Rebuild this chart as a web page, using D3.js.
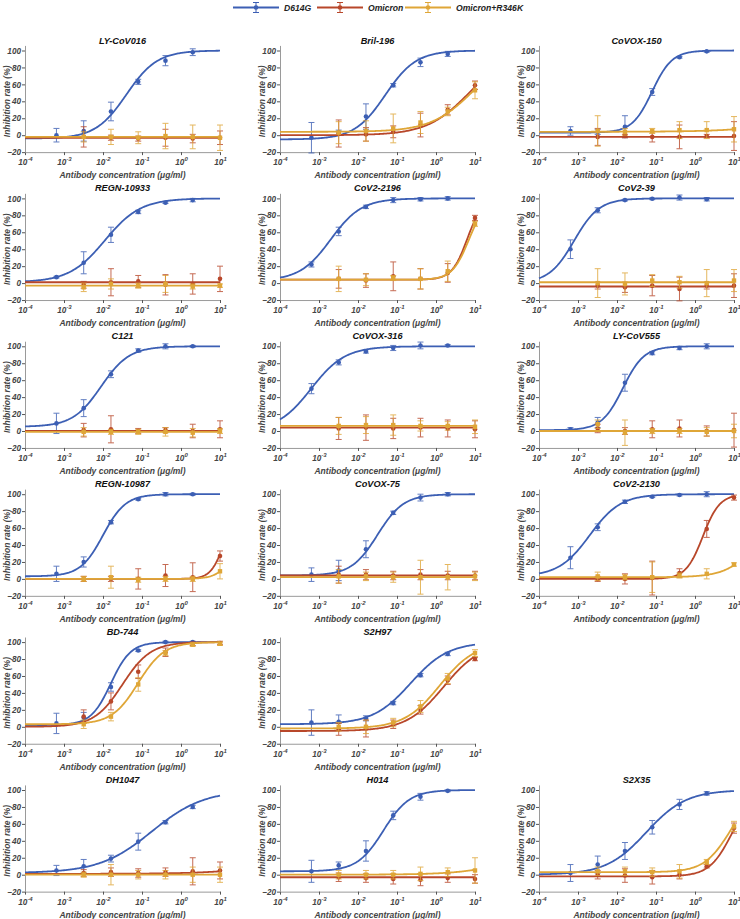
<!DOCTYPE html>
<html><head><meta charset="utf-8">
<script src="https://cdn.jsdelivr.net/npm/d3@7"></script>
<style>
body{margin:0;background:#fff;}
svg text{font-family:"Liberation Sans",Arial,sans-serif;}
</style></head>
<body>
<svg id="chart" width="740" height="919"></svg>
<script>
// ---------------- DATA ----------------
const antibodies = ["LY-CoV016","Bril-196","CoVOX-150","REGN-10933","CoV2-2196","CoV2-39","C121","CoVOX-316","LY-CoV555","REGN-10987","CoVOX-75","CoV2-2130","BD-744","S2H97","DH1047","H014","S2X35"];
const seriesNames = ["D614G","Omicron","Omicron+R346K"];
const concD614G = [0.00064, 0.0032, 0.016, 0.08, 0.4, 2];
const concOmicron = [0.0032, 0.016, 0.08, 0.4, 2, 10];
const xTickExponents = [-4,-3,-2,-1,0,1];
const yTicks = [-20,0,20,40,60,80,100];

const d614gMean = [
 [0,5,28,63,88,98],[-3,3,22,59,86,96],[5,4,10,51,92,99],
 [7,24,57,84,95,98],[22,61,90,98,99,100],[40,86,98,99.5,101,99],
 [9,27,67,95,100,100],[50,81,94,98,101,101],[2,10,57,92,98,100],
 [6,20,67,94,100,100],[5,10,35,78,96,100],[25,61,91,97,99,100],
 [4,11,47,90,100,100],[5,6,10,28,61,86],
 [5,10,19,39,62,80],[4,11,28,70,92,99],[2,12,28,56,83,96]];
const d614gErr = [
 [8,12,11,3,6,4],[18,3,15,2,5,3],[5,3,13,4,1,1],
 [1,13,9,2,1,2],[3,5,2,3,2,2],[11,3,1,1,3,2],
 [12,10,4,2,3,1],[6,3,2,3,4,1],[2,6,10,2,2,3],
 [9,6,2,1,2,1],[8,12,10,2,4,2],[13,4,2,1,1,3],
 [12,6,5,1,1,1],[15,8,3,2,2,2],
 [6,8,4,10,2,2],[13,4,12,5,4,1],[10,10,10,8,6,2]];
// fit parameters: [bottom, top, logIC50, hill]
const d614gFit = [
 [-4,100,-1.4,1.1],[-5,100,-1.3,1.1],[3,100,-1.1,1.7],
 [1,100,-1.95,0.95],[3,100,-2.7,1.1],[0,100,-3.1,1.35],
 [5,100,-2.05,1.2],[0,100,-3.2,1.0],[1,100,-1.85,1.6],
 [3,100,-2.0,1.5],[4,100,-1.5,1.3],[3,100,-2.7,1.1],
 [2,100,-1.8,1.7],[3,100,-0.65,0.9],
 [2,100,-0.75,0.65],[4,100,-1.35,1.3],[0,100,-1.25,0.85]];

const omicronMean = [
 [-2,-3,-4,-3,-4,-3],[2,1,4,12,30,59],[-2,-1,-2,-2,-1,-1],
 [-2,1,2,-2,-1,5],[5,3,8,5,12,77],[-3,-5,-3,-7,-3,-3],
 [1,2,0,1,0,2],[3,4,3,4,3,2],[3,0,2,3,0,1],
 [0,0,0,4,2,27],[5,5,4,5,4,4],[0,0,1,7,59,96],
 [12,30,65,88,98,99],[-3,-2,3,20,55,80],
 [2,3,2,3,4,5],[-3,-4,-5,-6,-4,-5],[0,-1,-3,0,10,55]];
const omicronErr = [
 [12,3,3,10,5,8],[16,8,7,14,6,5],[10,2,6,14,2,17],
 [4,16,7,12,12,15],[11,8,17,12,11,3],[4,6,12,14,4,14],
 [8,16,3,3,8,10],[13,15,12,11,10,10],[5,4,10,10,6,20],
 [3,3,12,13,17,6],[10,6,5,6,5,5],[3,6,20,5,10,3],
 [8,10,8,5,2,2],[7,10,5,5,5,2],
 [4,5,5,5,16,10],[5,5,6,7,5,5],[5,8,8,5,2,6]];
const omicronFit = [
 [-3,-3,0,1],[0,100,0.85,0.8],[-2,-2,0,1],
 [1,1,0,1],[4,100,0.8,2.2],[-4,-4,0,1],
 [0,0,0,1],[4,4,0,1],[0,0,0,1],
 [0,100,1.15,2.5],[4,4,0,1],[0,100,0.2,2.0],
 [0,100,-1.5,1.2],[-5,100,0.2,0.9],
 [1,100,4,0.5],[-3,-3,0,1],[-2,100,0.95,1.5]];

const r346kMean = [
 [-2,-2,-3,-1,-2,-3],[3,5,8,15,28,53],[5,4,5,6,6,7],
 [-5,-1,-3,-1,-4,-3],[5,4,6,5,14,70],[0,-1,3,1,0,3],
 [-1,-1,-1,-1,-2,0],[6,7,7,6,6,5],[8,-2,0,0,-1,0],
 [0,2,-1,0,0,9],[3,3,2,2,2,3],[3,2,2,4,6,17],
 [3,12,50,87,97,98],[0,0,5,24,57,87],
 [0,0,0,0,0,0],[0,0,0,1,3,5],[4,4,3,4,15,57]];
const r346kErr = [
 [6,9,7,15,14,15],[13,12,17,13,5,10],[18,4,3,10,10,15],
 [5,6,3,10,3,2],[15,7,3,12,12,3],[17,13,7,7,16,13],
 [5,3,3,5,5,3],[10,10,12,6,5,8],[5,15,3,3,5,8],
 [3,13,3,3,3,9],[8,5,6,20,15,5],[5,3,18,3,6,2],
 [5,5,8,3,2,2],[5,8,5,7,6,4],
 [3,12,5,5,9,9],[5,5,5,8,5,15],[5,5,5,8,3,6]];
const r346kFit = [
 [-2,-2,0,1],[4,100,0.95,0.8],[4,100,4,0.5],
 [-3,-3,0,1],[4,100,0.85,2.0],[1,1,0,1],
 [-1,-1,0,1],[6,6,0,1],[0,0,0,1],
 [0,100,1.5,2.0],[2,2,0,1],[2,100,1.7,1.1],
 [3,100,-1.1,1.3],[-2,100,0.1,0.95],
 [0,0,0,1],[0,100,3,0.6],[3,100,0.9,1.3]];

// ---------------- LAYOUT ----------------
const colors = ["#3c5fb4","#b8472a","#dfa637"];
const gridSlots = [0,1,2,3,4,5,6,7,8,9,10,11,12,13,15,16,17];
const colX = [25, 280, 539];
const plotW = 195;
const rowTop100 = 50.5, rowPitch = 147.9, pxPerUnit = 0.847;

const svg = d3.select("#chart");
const series = [
  {conc: concD614G, mean: d614gMean, err: d614gErr, fit: d614gFit, shape: "circle"},
  {conc: concOmicron, mean: omicronMean, err: omicronErr, fit: omicronFit, shape: "circle"},
  {conc: concOmicron, mean: r346kMean, err: r346kErr, fit: r346kFit, shape: "square"}
];

function logistic(p, lx){
  const [b,t,ic,h] = p;
  return b + (t-b)/(1+Math.pow(10,h*(ic-lx)));
}

// legend
const legX = [233, 317, 405];
const legend = svg.append("g");
seriesNames.forEach((name,i)=>{
  const g = legend.append("g").attr("transform",`translate(${legX[i]},7.5)`);
  g.append("line").attr("x1",0).attr("x2",46).attr("y1",0).attr("y2",0)
    .attr("stroke",colors[i]).attr("stroke-width",2);
  g.append("line").attr("x1",23).attr("x2",23).attr("y1",-5).attr("y2",5).attr("stroke",colors[i]).attr("stroke-width",1);
  g.append("line").attr("x1",20).attr("x2",26).attr("y1",-5).attr("y2",-5).attr("stroke",colors[i]).attr("stroke-width",1);
  g.append("line").attr("x1",20).attr("x2",26).attr("y1",5).attr("y2",5).attr("stroke",colors[i]).attr("stroke-width",1);
  g.append("circle").attr("cx",23).attr("cy",0).attr("r",2.3).attr("fill",colors[i]);
  g.append("text").attr("x",51).attr("y",3).text(name)
    .attr("font-size",8.6).attr("font-style","italic").attr("font-weight","bold").attr("fill","#222");
});

antibodies.forEach((ab, k)=>{
  const slot = gridSlots[k];
  const r = Math.floor(slot/3), c = slot%3;
  const x0 = colX[c];
  const y100 = rowTop100 + rowPitch*r;
  const yBottom = y100 + 120*pxPerUnit;
  const yTop = y100 - 6*pxPerUnit;
  const x = d3.scaleLog().domain([1e-4,10]).range([x0, x0+plotW]);
  const y = d3.scaleLinear().domain([-20,106]).range([yBottom, yTop]);
  const g = svg.append("g");

  // axes
  const xAxis = g.append("g").attr("transform",`translate(0,${yBottom})`)
    .call(d3.axisBottom(x).tickValues(xTickExponents.map(e=>Math.pow(10,e))).tickSize(3).tickSizeOuter(0).tickFormat(""));
  const yAxis = g.append("g").attr("transform",`translate(${x0},0)`)
    .call(d3.axisLeft(y).tickValues(yTicks).tickSize(3).tickSizeOuter(0));
  [xAxis,yAxis].forEach(a=>{
    a.select(".domain").attr("stroke","#9a9a9a").attr("stroke-width",1);
    a.selectAll(".tick line").attr("stroke","#555");
  });
  yAxis.selectAll(".tick text").attr("font-size",8.2).attr("font-style","italic").attr("font-weight","bold")
    .attr("fill","#444").attr("x",-4);
  xAxis.selectAll(".tick").each(function(d,i){
    const t = d3.select(this).append("text").attr("y",13).attr("text-anchor","middle")
      .attr("font-size",8.2).attr("font-style","italic").attr("font-weight","bold").attr("fill","#444");
    t.append("tspan").text("10");
    t.append("tspan").attr("dy",-4).attr("font-size",6).text(xTickExponents[i]);
  });

  // labels
  g.append("text").attr("x",x0+plotW/2).attr("y",yBottom+26).attr("text-anchor","middle")
    .attr("font-size",8.5).attr("font-style","italic").attr("font-weight","bold").attr("fill","#444")
    .text("Antibody concentration (μg/ml)");
  g.append("text").attr("transform",`translate(${x0-15},${(y100+yBottom)/2}) rotate(-90)`)
    .attr("text-anchor","middle").attr("font-size",8.5).attr("font-style","italic").attr("font-weight","bold").attr("fill","#444")
    .text("Inhibition rate (%)");
  g.append("text").attr("x",x0+plotW/2).attr("y",y100-7).attr("text-anchor","middle")
    .attr("font-size",9.2).attr("font-style","italic").attr("font-weight","bold").attr("fill","#111")
    .text(ab);

  // series
  series.forEach((s,si)=>{
    const col = colors[si];
    const lx = d3.range(-4, 1.0001, 0.025);
    const line = d3.line().x(v=>x(Math.pow(10,v))).y(v=>y(logistic(s.fit[k], v)));
    g.append("path").datum(lx).attr("d",line).attr("fill","none").attr("stroke",col).attr("stroke-width",1.8);
    const pts = s.conc.map((cc,j)=>({c:cc, m:s.mean[k][j], e:s.err[k][j]}));
    const eb = g.append("g").attr("stroke",col).attr("stroke-width",1).attr("opacity",0.8);
    pts.forEach(p=>{
      const px = x(p.c);
      eb.append("line").attr("x1",px).attr("x2",px).attr("y1",y(p.m-p.e)).attr("y2",y(p.m+p.e));
      eb.append("line").attr("x1",px-3).attr("x2",px+3).attr("y1",y(p.m-p.e)).attr("y2",y(p.m-p.e));
      eb.append("line").attr("x1",px-3).attr("x2",px+3).attr("y1",y(p.m+p.e)).attr("y2",y(p.m+p.e));
    });
    if(s.shape==="circle"){
      g.selectAll(null).data(pts).enter().append("circle")
        .attr("cx",p=>x(p.c)).attr("cy",p=>y(p.m)).attr("r",2.3).attr("fill",col);
    } else {
      g.selectAll(null).data(pts).enter().append("rect")
        .attr("x",p=>x(p.c)-2.2).attr("y",p=>y(p.m)-2.2).attr("width",4.4).attr("height",4.4).attr("fill",col);
    }
  });
});
</script>
</body></html>
